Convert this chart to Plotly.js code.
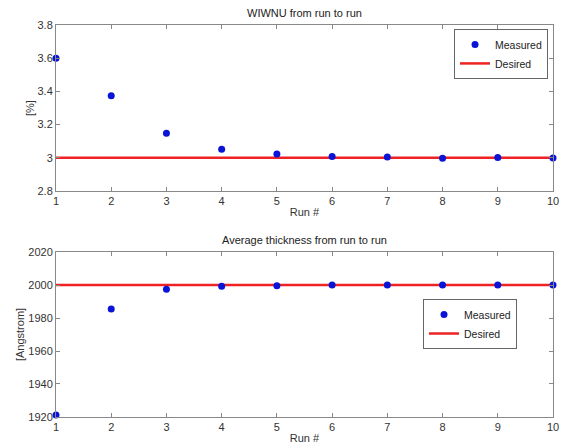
<!DOCTYPE html>
<html><head><meta charset="utf-8">
<script src="https://cdn.plot.ly/plotly-3.0.1.min.js"></script>
<style>html,body{margin:0;padding:0;background:#fff}#c{width:572px;height:448px}</style>
</head><body><div id="c"></div>
<script>
const runs = [1,2,3,4,5,6,7,8,9,10];
const wiwnuMeasured = [3.6,3.374,3.148,3.052,3.023,3.008,3.005,2.998,3.002,2.999];
const wiwnuDesired = [3,3,3,3,3,3,3,3,3,3];
const thickMeasured = [1921.2,1985.5,1997.4,1999.2,1999.6,2000,2000,2000,2000,2000];
const thickDesired = [2000,2000,2000,2000,2000,2000,2000,2000,2000,2000];

const font = {family:'Liberation Sans, Arial, sans-serif', size:11, color:'#333'};
const traces = [
  {x:runs, y:wiwnuDesired, type:'scatter', mode:'lines', name:'Desired', line:{color:'#ee2222', width:2.5}, xaxis:'x', yaxis:'y', legend:'legend', cliponaxis:false},
  {x:runs, y:wiwnuMeasured, type:'scatter', mode:'markers', name:'Measured', marker:{color:'#0a14d6', size:7}, xaxis:'x', yaxis:'y', legend:'legend', cliponaxis:false},
  {x:runs, y:thickDesired, type:'scatter', mode:'lines', name:'Desired', line:{color:'#ee2222', width:2.5}, xaxis:'x2', yaxis:'y2', legend:'legend2', cliponaxis:false},
  {x:runs, y:thickMeasured, type:'scatter', mode:'markers', name:'Measured', marker:{color:'#0a14d6', size:7}, xaxis:'x2', yaxis:'y2', legend:'legend2', cliponaxis:false}
];
const ax = {showline:true, mirror:'ticks', linecolor:'#888', linewidth:1, ticks:'inside', ticklen:4, tickcolor:'#888', showgrid:false, zeroline:false, tickfont:font};
const legendBase = {bordercolor:'#666', borderwidth:1, bgcolor:'#fff', font:{family:font.family, size:10.5, color:'#222'}, traceorder:'reversed', tracegroupgap:0, xanchor:'right', yanchor:'top', itemwidth:30};
const layout = {
  width:572, height:448, paper_bgcolor:'#fff', plot_bgcolor:'#fff',
  margin:{l:56, r:19, t:25, b:31}, font:font,
  xaxis:Object.assign({}, ax, {domain:[0,1], range:[1,10], dtick:1, anchor:'y', title:{text:'Run #', font:font, standoff:2}}),
  yaxis:Object.assign({}, ax, {domain:[0.5765,1], range:[2.8,3.8], dtick:0.2, anchor:'x'}),
  xaxis2:Object.assign({}, ax, {domain:[0,1], range:[1,10], dtick:1, anchor:'y2', title:{text:'Run #', font:font, standoff:2}}),
  yaxis2:Object.assign({}, ax, {domain:[0,0.4209], range:[1920,2020], dtick:20, anchor:'x2'}),
  legend:Object.assign({}, legendBase, {x:0.99, y:0.99}),
  legend2:Object.assign({}, legendBase, {x:0.9276, y:0.301}),
  annotations:[
    {text:'WIWNU from run to run', xref:'paper', yref:'paper', x:0.5, y:1, yshift:4, yanchor:'bottom', showarrow:false, font:{family:font.family, size:11, color:'#222'}},
    {text:'Average thickness from run to run', xref:'paper', yref:'paper', x:0.5, y:0.4209, yshift:4, yanchor:'bottom', showarrow:false, font:{family:font.family, size:11, color:'#222'}},
    {text:'[%]', xref:'paper', yref:'paper', x:0, xshift:-26, xanchor:'center', yanchor:'middle', y:0.788, textangle:-90, showarrow:false, font:font},
    {text:'[Angstrom]', xref:'paper', yref:'paper', x:0, xshift:-36, xanchor:'center', yanchor:'middle', y:0.209, textangle:-90, showarrow:false, font:font}
  ]
};
Plotly.newPlot('c', traces, layout, {displayModeBar:false, staticPlot:true});
</script></body></html>
